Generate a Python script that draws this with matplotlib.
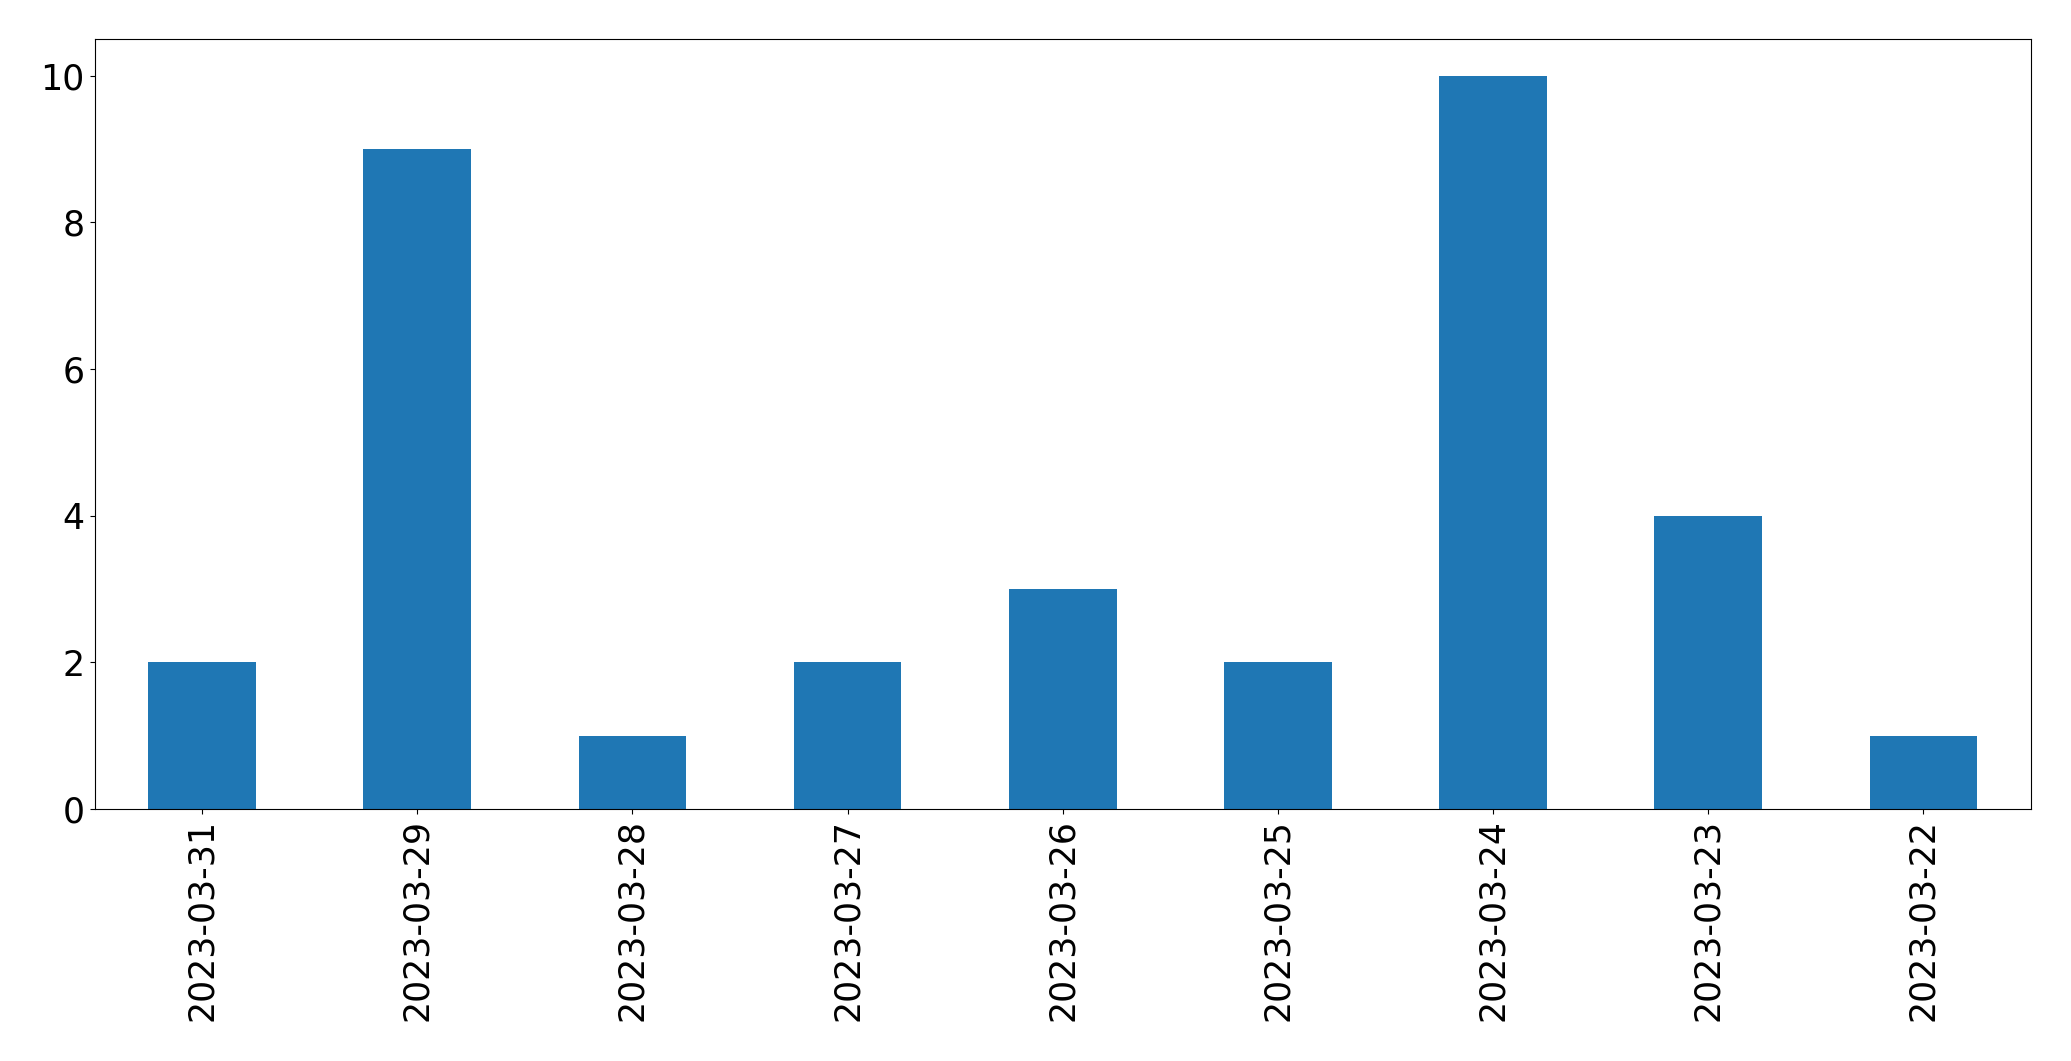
import matplotlib
matplotlib.use("Agg")
from matplotlib import pyplot as plt

dates = ["2023-03-31", "2023-03-29", "2023-03-28", "2023-03-27", "2023-03-26",
         "2023-03-25", "2023-03-24", "2023-03-23", "2023-03-22"]
counts = [2, 9, 1, 2, 3, 2, 10, 4, 1]

fig = plt.figure(figsize=(20.71, 10.61), dpi=100)
ax = fig.add_axes([94.5 / 2071, 1 - 809 / 1061, (2031 - 94.5) / 2071, (809 - 39) / 1061])
x = range(len(dates))
ax.bar(x, counts, width=0.5, color="#1f77b4")
ax.set_xlim(-0.5, len(dates) - 0.5)
ax.set_ylim(0, 10.5)
ax.set_xticks(list(x))
ax.set_xticklabels(dates, rotation=90, fontsize=25)
ax.set_yticks([0, 2, 4, 6, 8, 10])
ax.tick_params(axis="y", labelsize=25)
fig.savefig("out.png", dpi=100)
